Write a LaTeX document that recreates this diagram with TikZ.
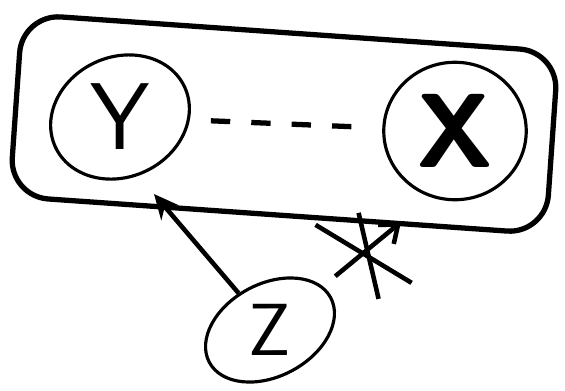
\documentclass[tikz,border=0pt]{standalone}
\usepackage{graphicx}
\usetikzlibrary{shapes.geometric,arrows.meta}
\tikzset{
  var/.style={draw, ellipse, line width=1.8pt, inner sep=0pt, font=\sffamily},
  link/.style={line width=2.6pt, -{Stealth[length=14pt,width=13pt]}},
}
\begin{document}
\begin{tikzpicture}[x=0.02cm,y=-0.02cm]
\useasboundingbox (0,0) rectangle (565,390);
\node[draw, rounded corners=22pt, line width=3pt, rotate=-4,
  minimum width=10.75cm, minimum height=3.65cm] (group) at (284,124) {};
\node[var, rotate=25, minimum width=2.85cm, minimum height=2.35cm] (y) at (120,117)
  {\rotatebox{-25}{\fontsize{54}{54}\selectfont Y}};
\node[var, minimum width=2.85cm, minimum height=2.75cm] (x) at (455,131)
  {\fontsize{60}{60}\selectfont\bfseries X};
\node[var, rotate=28, minimum width=2.75cm, minimum height=1.85cm] (z) at (270,330)
  {\rotatebox{-28}{\fontsize{42}{42}\selectfont Z}};
\draw[line width=3pt, dash pattern=on 11pt off 12pt, shorten <=12pt, shorten >=9pt] (y) -- (x);
\coordinate (yhit) at (154,194);
\coordinate (xhit) at (401,222);
\draw[link] (z) -- (yhit);
\draw[link, -{Straight Barb[length=9pt,width=14pt]}, shorten <=9pt] (z) -- (xhit)
  coordinate[pos=0.52] (cut);
\draw[line width=2.6pt] ([shift={(-48,-28)}]cut) -- ([shift={(48,30)}]cut);
\draw[line width=2.6pt] ([shift={(-5,-40)}]cut) -- ([shift={(15,46)}]cut);
\end{tikzpicture}
\end{document}
